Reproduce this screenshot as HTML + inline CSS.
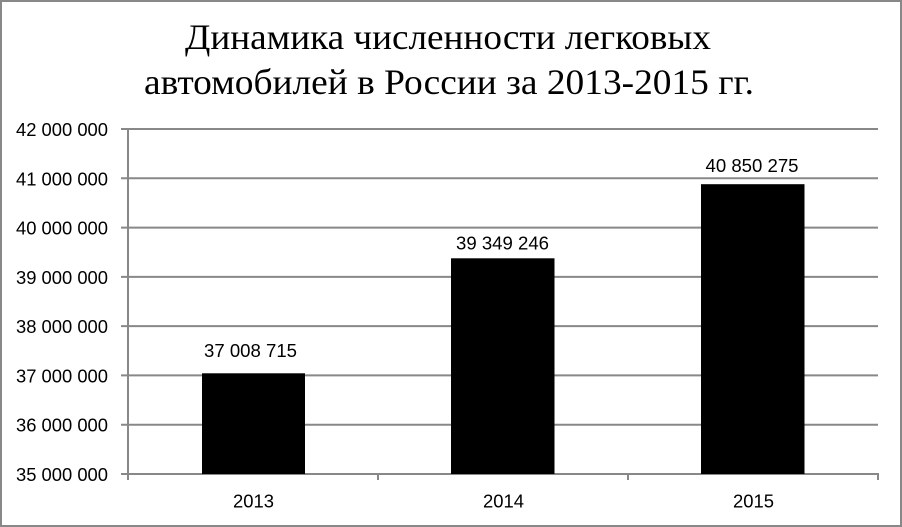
<!DOCTYPE html>
<html>
<head>
<meta charset="utf-8">
<style>
  html, body { margin: 0; padding: 0; background: #fff; }
  body { width: 902px; height: 527px; overflow: hidden; }
  svg { display: block; }
</style>
</head>
<body>
<svg width="902" height="527" viewBox="0 0 902 527" xmlns="http://www.w3.org/2000/svg">
  <rect x="0" y="0" width="902" height="527" fill="#ffffff"/>
  <rect x="1" y="1" width="900" height="525" fill="none" stroke="#888888" stroke-width="2"/>

  <!-- Title -->
  <text x="448" y="49" text-anchor="middle" font-family="'Liberation Serif', serif" font-size="36" fill="#000" textLength="526" lengthAdjust="spacingAndGlyphs">Динамика численности легковых</text>
  <text x="449" y="94" text-anchor="middle" font-family="'Liberation Serif', serif" font-size="36" fill="#000" textLength="610" lengthAdjust="spacingAndGlyphs">автомобилей в России за 2013-2015 гг.</text>

  <!-- Gridlines -->
  <g stroke="#888888" stroke-width="2">
    <line x1="121" y1="129" x2="878" y2="129"/>
    <line x1="121" y1="178.3" x2="878" y2="178.3"/>
    <line x1="121" y1="227.6" x2="878" y2="227.6"/>
    <line x1="121" y1="276.9" x2="878" y2="276.9"/>
    <line x1="121" y1="326.1" x2="878" y2="326.1"/>
    <line x1="121" y1="375.4" x2="878" y2="375.4"/>
    <line x1="121" y1="424.7" x2="878" y2="424.7"/>
    <line x1="121" y1="474" x2="878" y2="474"/>
    <!-- vertical axis -->
    <line x1="128" y1="128" x2="128" y2="480"/>
    <!-- category ticks -->
    <line x1="378" y1="474" x2="378" y2="480"/>
    <line x1="628" y1="474" x2="628" y2="480"/>
    <line x1="878" y1="473" x2="878" y2="480"/>
  </g>

  <!-- Bars -->
  <rect x="202" y="373.3" width="103" height="100.7" fill="#000"/>
  <rect x="451" y="258.3" width="103.5" height="215.7" fill="#000"/>
  <rect x="701" y="184.2" width="103.5" height="289.8" fill="#000"/>

  <!-- Y axis labels -->
  <g font-family="'Liberation Sans', sans-serif" font-size="18" fill="#000" text-anchor="end">
    <text x="108" y="136" textLength="92" lengthAdjust="spacingAndGlyphs">42 000 000</text>
    <text x="108" y="185.3" textLength="92" lengthAdjust="spacingAndGlyphs">41 000 000</text>
    <text x="108" y="234.6" textLength="92" lengthAdjust="spacingAndGlyphs">40 000 000</text>
    <text x="108" y="283.9" textLength="92" lengthAdjust="spacingAndGlyphs">39 000 000</text>
    <text x="108" y="333.1" textLength="92" lengthAdjust="spacingAndGlyphs">38 000 000</text>
    <text x="108" y="382.4" textLength="92" lengthAdjust="spacingAndGlyphs">37 000 000</text>
    <text x="108" y="431.7" textLength="92" lengthAdjust="spacingAndGlyphs">36 000 000</text>
    <text x="108" y="481" textLength="92" lengthAdjust="spacingAndGlyphs">35 000 000</text>
  </g>

  <!-- Data labels -->
  <g font-family="'Liberation Sans', sans-serif" font-size="18" fill="#000" text-anchor="middle">
    <text x="250.5" y="357" textLength="93" lengthAdjust="spacingAndGlyphs">37 008 715</text>
    <text x="502.5" y="249.5" textLength="93" lengthAdjust="spacingAndGlyphs">39 349 246</text>
    <text x="752" y="172" textLength="93" lengthAdjust="spacingAndGlyphs">40 850 275</text>
  </g>

  <!-- Category labels -->
  <g font-family="'Liberation Sans', sans-serif" font-size="18" fill="#000" text-anchor="middle">
    <text x="253.5" y="507.5" textLength="41" lengthAdjust="spacingAndGlyphs">2013</text>
    <text x="503.5" y="507.5" textLength="41" lengthAdjust="spacingAndGlyphs">2014</text>
    <text x="753.5" y="507.5" textLength="41" lengthAdjust="spacingAndGlyphs">2015</text>
  </g>
</svg>
</body>
</html>
